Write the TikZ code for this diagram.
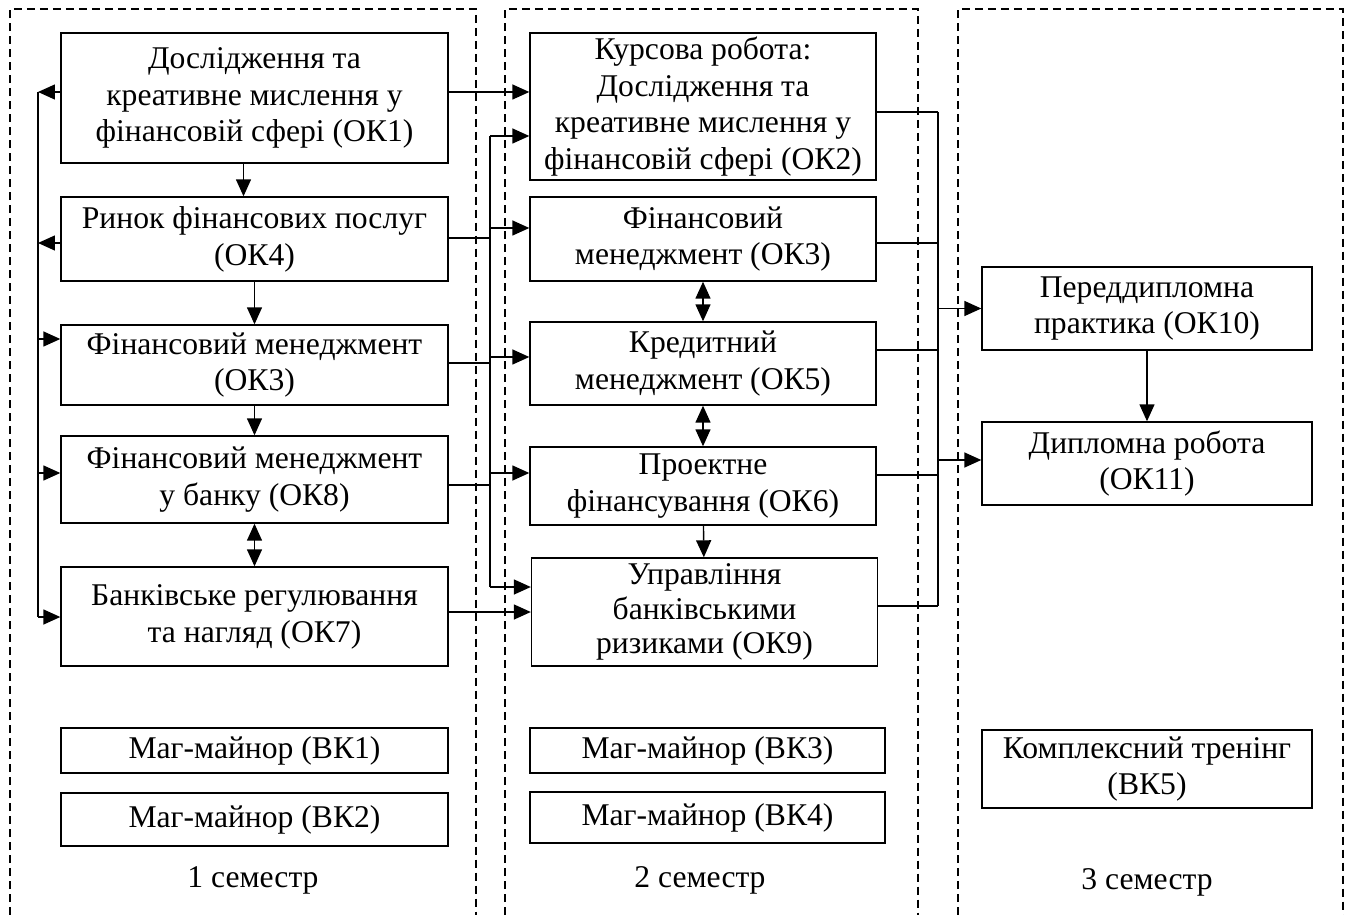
\documentclass[tikz,border=0pt]{standalone}
\usepackage{fontspec}
\setmainfont{Liberation Serif}
\usetikzlibrary{arrows.meta}

\begin{document}
\begin{tikzpicture}[x=0.02cm,y=-0.02cm,>={Triangle[length=0.34cm,width=0.3cm]},
	line width=0.8pt,
	box/.style={draw,align=center,inner sep=1pt,font=\fontsize{18}{21}\selectfont},
	colA/.style={box,minimum width=7.74cm},
	colB/.style={box,minimum width=6.92cm},
	colC/.style={box,minimum width=6.6cm},
	lbl/.style={font=\fontsize{18}{21}\selectfont},
	frame/.style={line width=0.7pt,dash pattern=on 0.16cm off 0.1cm}]
	\useasboundingbox (0,0) rectangle (1349,915);
	
	% semester frames
	\draw[frame] (10,915) -- (10,9) -- (476,9) -- (476,915);
	\draw[frame] (505,915) -- (505,9) -- (918,9) -- (918,915);
	\draw[frame] (958,915) -- (958,9) -- (1343,9) -- (1343,915);
	
	% 1 semester
	\node[colA,minimum height=2.6cm](ok1) at (254.5,98) {Дослідження та\\креативне мислення у\\фінансовій сфері (ОК1)};
	\node[colA,minimum height=1.68cm](ok4) at (254.5,239) {Ринок фінансових послуг\\(ОК4)};
	\node[colA,minimum height=1.6cm](ok3a) at (254.5,365) {Фінансовий менеджмент\\(ОК3)};
	\node[colA,minimum height=1.74cm](ok8) at (254.5,479.5) {Фінансовий менеджмент\\у банку (ОК8)};
	\node[colA,minimum height=1.98cm](ok7) at (254.5,616.5) {Банківське регулювання\\та нагляд (ОК7)};
	\node[colA,minimum height=0.9cm](vk1) at (254.5,750.5) {Маг-майнор (ВК1)};
	\node[colA,minimum height=1.06cm](vk2) at (254.5,819.5) {Маг-майнор (ВК2)};
	\node[lbl](sem1) at (253,880) {1 семестр};
	
	% 2 semester
	\node[colB,minimum height=2.94cm](ok2) at (703,106.5) {Курсова робота:\\Дослідження та\\креативне мислення у\\фінансовій сфері (ОК2)};
	\node[colB,minimum height=1.68cm](ok3b) at (703,239) {Фінансовий\\менеджмент (ОК3)};
	\node[colB,minimum height=1.66cm](ok5) at (703,363.5) {Кредитний\\менеджмент (ОК5)};
	\node[colB,minimum height=1.56cm](ok6) at (703,486) {Проектне\\фінансування (ОК6)};
	\node[colB,minimum height=2.16cm,font=\fontsize{18}{19.5}\selectfont](ok9) at (704.5,612) {Управління\\банківськими\\ризиками (ОК9)};
	\node[box,minimum width=7.1cm,minimum height=0.9cm](vk3) at (707.5,750.5) {Маг-майнор (ВК3)};
	\node[box,minimum width=7.1cm,minimum height=1.02cm](vk4) at (707.5,817.5) {Маг-майнор (ВК4)};
	\node[lbl](sem2) at (700,880) {2 семестр};
	
	% 3 semester
	\node[colC,minimum height=1.66cm](ok10) at (1147,308.5) {Переддипломна\\практика (ОК10)};
	\node[colC,minimum height=1.66cm](ok11) at (1147,463.5) {Дипломна робота\\(ОК11)};
	\node[colC,minimum height=1.56cm](vk5) at (1147,769) {Комплексний тренінг\\(ВК5)};
	\node[lbl](sem3) at (1147,882) {3 семестр};
	
	% inside the columns
	\draw[->] ([xshift=-0.22cm]ok1.south) -- ([xshift=-0.22cm]ok4.north);
	\draw[->] (ok4) -- (ok3a);
	\draw[->] (ok3a) -- (ok8);
	\draw[<->] (ok8) -- (ok7);
	\draw[<->] (ok3b) -- (ok5);
	\draw[<->] (ok5) -- (ok6);
	\draw[->] (ok6) -- (ok9);
	\draw[->] (ok10) -- (ok11);
	
	% left bus
	\coordinate (lb1) at (38,92);
	\coordinate (lb2) at (38,243);
	\coordinate (lb3) at (38,339);
	\coordinate (lb4) at (38,473);
	\coordinate (lb5) at (38,617);
	\draw (lb1) -- (lb5);
	\draw[->] (ok1.west |- lb1) -- (lb1);
	\draw[->] (ok4.west |- lb2) -- (lb2);
	\draw[->] (lb3) -- (ok3a.west |- lb3);
	\draw[->] (lb4) -- (ok8.west |- lb4);
	\draw[->] (lb5) -- (ok7.west |- lb5);
	
	% middle bus
	\coordinate (mb1) at (490,136);
	\coordinate (mb2) at (490,228);
	\coordinate (mb3) at (490,238);
	\coordinate (mb4) at (490,357);
	\coordinate (mb5) at (490,363);
	\coordinate (mb6) at (490,473);
	\coordinate (mb7) at (490,485);
	\coordinate (mb8) at (490,587);
	\draw (mb1) -- (mb8);
	\draw (ok4.east |- mb3) -- (mb3);
	\draw (ok3a.east |- mb5) -- (mb5);
	\draw (ok8.east |- mb7) -- (mb7);
	\draw[->] (mb1) -- (ok2.west |- mb1);
	\draw[->] (mb2) -- (ok3b.west |- mb2);
	\draw[->] (mb4) -- (ok5.west |- mb4);
	\draw[->] (mb6) -- (ok6.west |- mb6);
	\draw[->] (mb8) -- (ok9.west |- mb8);
	\draw[->] (ok1.east |- lb1) -- (ok2.west |- lb1);
	\draw[->] (ok7.east |- ok9.west) -- (ok9.west);
	
	% right bus
	\coordinate (rb1) at (938,112);
	\coordinate (rb2) at (938,243);
	\coordinate (rb3) at (938,350);
	\coordinate (rb4) at (938,475);
	\coordinate (rb5) at (938,606);
	\draw (rb1) -- (rb5);
	\draw (ok2.east |- rb1) -- (rb1);
	\draw (ok3b.east |- rb2) -- (rb2);
	\draw (ok5.east |- rb3) -- (rb3);
	\draw (ok6.east |- rb4) -- (rb4);
	\draw (ok9.east |- rb5) -- (rb5);
	\draw[->] (ok10.west -| rb1) -- (ok10.west);
	\draw[->] ([yshift=0.07cm]ok11.west -| rb1) -- ([yshift=0.07cm]ok11.west);
\end{tikzpicture}
\end{document}
